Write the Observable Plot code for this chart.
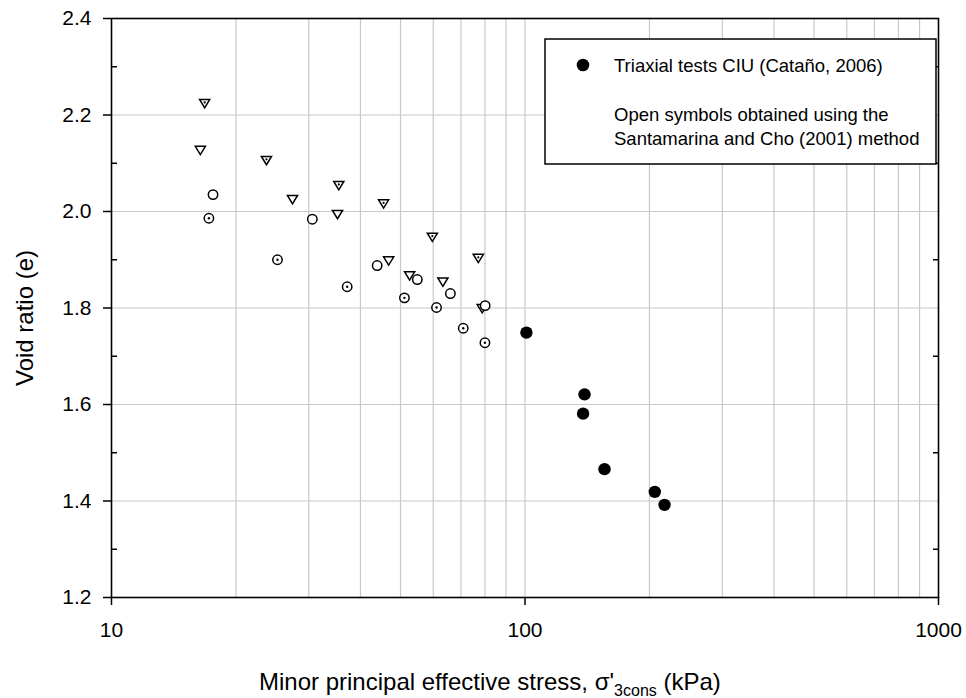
<!DOCTYPE html>
<html>
<head>
<meta charset="utf-8">
<script src="https://cdn.jsdelivr.net/npm/d3@7"></script>
<script src="https://cdn.jsdelivr.net/npm/@observablehq/plot@0.6"></script>
<style>
  body { margin: 0; background: #fff; }
  #chart svg { display: block; }
</style>
</head>
<body>
<div id="chart"></div>
<script>
// ---- Data: [minor principal effective stress (kPa), void ratio e] ----
const triaxialCIU = [[100.8, 1.749], [139.3, 1.621], [138.2, 1.581], [155.7, 1.466], [206, 1.419], [217.5, 1.392]];
const openTriangles = [[16.4, 2.128], [27.4, 2.026], [35.2, 1.995], [46.8, 1.899], [52.6, 1.868], [63.3, 1.855], [78.8, 1.800]];
const dottedTriangles = [[16.8, 2.225], [23.7, 2.107], [35.45, 2.055], [45.5, 2.017], [59.7, 1.948], [77.1, 1.904]];
const openCircles = [[17.6, 2.035], [30.6, 1.984], [43.9, 1.888], [54.9, 1.859], [66.0, 1.830], [80.1, 1.805]];
const dottedCircles = [[17.2, 1.986], [25.2, 1.900], [37.15, 1.844], [51.1, 1.821], [61.1, 1.801], [70.9, 1.758], [80.0, 1.728]];

// ---- Ticks and grid ----
const xTicks = [10, 100, 1000];
const xGrid = [20, 30, 40, 50, 60, 70, 80, 90, 100, 200, 300, 400, 500, 600, 700, 800, 900];
const yTicks = [1.2, 1.4, 1.6, 1.8, 2.0, 2.2, 2.4];
const yMinor = [1.3, 1.5, 1.7, 1.9, 2.1, 2.3];
const yGrid = [1.4, 1.6, 1.8, 2.0, 2.2];

// ---- Texts ----
const yTitle = "Void ratio (e)";
const xTitleMain = "Minor principal effective stress, σ'";
const xTitleSub = "3cons";
const xTitleEnd = " (kPa)";
const legendFilled = "Triaxial tests CIU (Cataño, 2006)";
const legendNote = ["Open symbols obtained using the", "Santamarina and Cho (2001) method"];

const FONT = "'Liberation Sans', Arial, Helvetica, sans-serif";

const triangleDown = {
  draw(ctx, size) {
    const r = Math.sqrt(size / Math.PI);
    ctx.moveTo(-1.1 * r, -0.75 * r);
    ctx.lineTo(1.1 * r, -0.75 * r);
    ctx.lineTo(0, 1.05 * r);
    ctx.closePath();
  }
};

const px = d => d[0], py = d => d[1];

const chart = Plot.plot({
  width: 966,
  height: 698,
  marginLeft: 111,
  marginRight: 28,
  marginTop: 18,
  marginBottom: 101,
  style: { fontFamily: FONT, fontSize: "21px", background: "white", color: "black" },
  x: { type: "log", domain: [10, 1000], axis: null },
  y: { domain: [1.2, 2.4], axis: null },
  marks: [
    Plot.gridX(xGrid, { stroke: "#c8c8c8", strokeOpacity: 1, strokeWidth: 1.2 }),
    Plot.gridY(yGrid, { stroke: "#c8c8c8", strokeOpacity: 1, strokeWidth: 1.2 }),
    Plot.axisY(yTicks, { anchor: "left", tickSize: 8, tickPadding: 12, fontSize: 21, label: null, strokeWidth: 1.5, tickFormat: d3.format(".1f") }),
    Plot.axisY(yMinor, { anchor: "left", tickSize: -6, text: null, label: null, strokeWidth: 1.5 }),
    Plot.axisY(yMinor, { anchor: "right", tickSize: -6, text: null, label: null, strokeWidth: 1.5 }),
    Plot.axisX(xTicks, { anchor: "bottom", tickSize: 8, tickPadding: 17, fontSize: 21, label: null, strokeWidth: 1.5, tickFormat: d => String(d) }),
    Plot.frame({ stroke: "black", strokeWidth: 1.6 }),
    // open symbols
    Plot.dot(openTriangles, { x: px, y: py, symbol: triangleDown, r: 4.6, stroke: "black", strokeWidth: 1.5, fill: "white" }),
    Plot.dot(dottedTriangles, { x: px, y: py, symbol: triangleDown, r: 4.6, stroke: "black", strokeWidth: 1.5, fill: "white" }),
    Plot.dot(dottedTriangles, { x: px, y: py, r: 1.1, fill: "black", dy: -0.5 }),
    Plot.dot(openCircles, { x: px, y: py, r: 4.7, stroke: "black", strokeWidth: 1.5, fill: "white" }),
    Plot.dot(dottedCircles, { x: px, y: py, r: 4.7, stroke: "black", strokeWidth: 1.5, fill: "white" }),
    Plot.dot(dottedCircles, { x: px, y: py, r: 1.2, fill: "black" }),
    // filled
    Plot.dot(triaxialCIU, { x: px, y: py, r: 6.2, fill: "black" })
  ]
});

const svg = d3.select(chart);

// Legend box
const lg = svg.append("g").attr("font-family", FONT).attr("text-anchor", "start");
lg.append("rect").attr("x", 545).attr("y", 39).attr("width", 391).attr("height", 125)
  .attr("fill", "white").attr("stroke", "black").attr("stroke-width", 1.5);
lg.append("circle").attr("cx", 583).attr("cy", 65).attr("r", 6.3).attr("fill", "black");
lg.append("text").attr("x", 614).attr("y", 71.5).attr("font-size", 18.5).attr("fill", "black").text(legendFilled);
legendNote.forEach((t, i) => {
  lg.append("text").attr("x", 614).attr("y", 120.5 + i * 24.5).attr("font-size", 18.5).attr("fill", "black").text(t);
});

// Axis titles
svg.append("text")
  .attr("transform", "translate(33,318) rotate(-90)")
  .attr("text-anchor", "middle")
  .attr("font-family", FONT).attr("font-size", 24).attr("fill", "black")
  .text(yTitle);

const xt = svg.append("text")
  .attr("x", 259).attr("y", 690)
  .attr("text-anchor", "start")
  .attr("font-family", FONT).attr("font-size", 24).attr("fill", "black");
xt.append("tspan").text(xTitleMain);
xt.append("tspan").attr("dy", 6).attr("font-size", 16).text(xTitleSub);
xt.append("tspan").attr("dy", -6).text(xTitleEnd);

document.getElementById("chart").appendChild(chart);
</script>
</body>
</html>
